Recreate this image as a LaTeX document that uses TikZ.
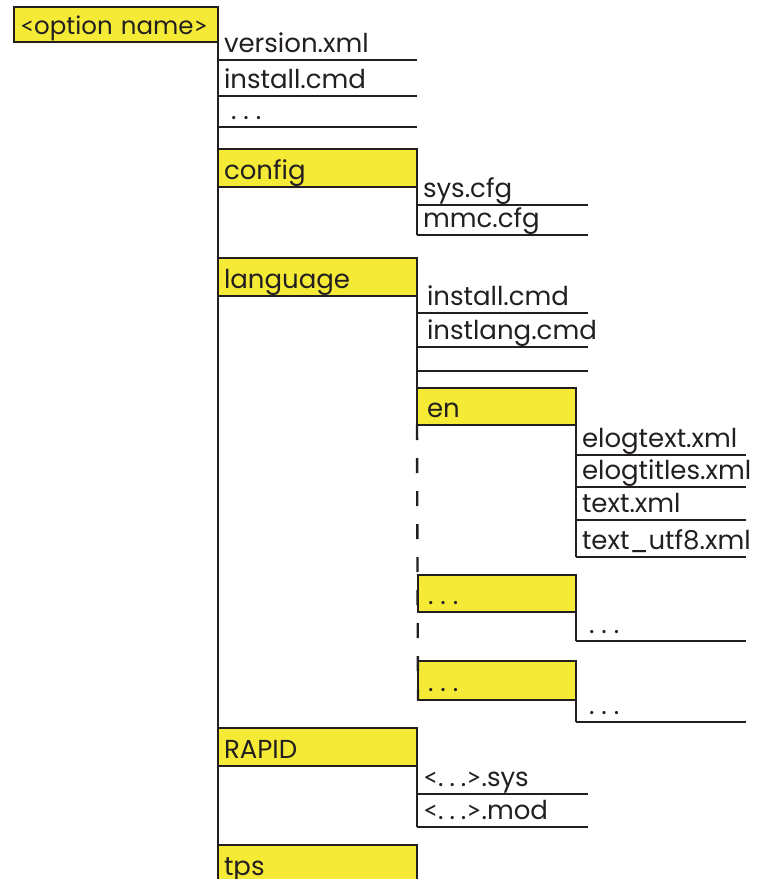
\documentclass[tikz,border=0pt]{standalone}
\usepackage{fontspec}
\setmainfont{Poppins}
\newfontfamily\bracketfont{Lato}
\definecolor{abbyellow}{RGB}{245,235,55}
\definecolor{inkgray}{RGB}{35,31,32}
\hyphenpenalty=10000
\exhyphenpenalty=10000
\newcommand{\dotsrow}{.\hspace{7pt}.\hspace{7pt}.}
\newcommand{\lt}{{\bracketfont<}}
\newcommand{\gt}{{\bracketfont>}}
\tikzset{
  tree/.style={draw=inkgray, line width=2.4pt},
  folder/.style={tree, fill=abbyellow, anchor=north west, outer sep=0pt,
    inner xsep=6pt, inner ysep=0pt, text height=22pt, text depth=0pt,
    minimum height=38pt, align=left},
  file/.style={anchor=south west, outer sep=0pt, inner xsep=6pt, inner ysep=0pt,
    text height=15pt, text depth=8pt, align=left},
}
\begin{document}
\begin{tikzpicture}[x=1pt,y=-1pt,font=\fontsize{26}{30}\selectfont,text=inkgray]
\clip (0,0) rectangle (757,879);
% top folder and its files
\node[folder, text width=196pt, inner xsep=4pt, minimum height=35pt, text height=20pt,
  font=\fontsize{24.5}{30}\selectfont] (opt) at (14,7) {\mbox{\hspace*{2pt}\lt option~name\gt}};
\node[file, text width=187pt] (v1) at (218,60) {version.xml};
\node[file, text width=187pt] (v2) at (218,96) {install.cmd};
\node[file, text width=187pt] (v3) at (218,127) {\hspace*{7pt}\dotsrow};
% config
\node[folder, text width=187pt] (cfg) at (218,149) {config};
\node[file, text width=159pt] (sys) at (417,205) {sys.cfg};
\node[file, text width=159pt] (mmc) at (417,235) {mmc.cfg};
% language
\node[folder, text width=187pt] (lang) at (218,258) {language};
\node[file, text width=159pt] (li) at (417,313) {\hspace*{4pt}install.cmd};
\node[file, text width=159pt] (ll) at (417,347) {\mbox{\hspace*{4pt}instlang.cmd}};
\node[file, text width=159pt] (le) at (417,371) {};
\node[folder, text width=147pt, minimum height=37pt] (en) at (417,388) {\hspace*{4pt}en};
\node[file, text width=158pt] (e1) at (576,455) {elogtext.xml};
\node[file, text width=158pt] (e2) at (576,487) {\mbox{elogtitles.xml}};
\node[file, text width=158pt] (e3) at (576,520) {text.xml};
\node[file, text width=158pt] (e4) at (576,557) {text\_utf8.xml};
\node[folder, text width=146pt, minimum height=37pt] (d1) at (418,575) {\hspace*{4pt}\dotsrow};
\node[file, text width=158pt] (d1f) at (576,641) {\hspace*{7pt}\dotsrow};
\node[folder, text width=146pt, minimum height=39pt] (d2) at (418,661) {\hspace*{4pt}\dotsrow};
\node[file, text width=158pt] (d2f) at (576,722) {\hspace*{7pt}\dotsrow};
% RAPID and tps
\node[folder, text width=187pt] (rapid) at (218,728) {RAPID};
\node[file, text width=159pt] (rs) at (417,794) {\lt.\hspace{6pt}.\hspace{6pt}.\gt.sys};
\node[file, text width=159pt] (rm) at (417,827) {\lt.\hspace{6pt}.\hspace{6pt}.\gt.mod};
\node[folder, text width=187pt] (tps) at (218,845) {tps};
\coordinate (trunkend) at (218,879);
% tree lines
\draw[tree] (opt.south east) -- (trunkend);
\draw[tree] (cfg.south east) -- (mmc.south west);
\draw[tree] (lang.south east) -- (en.north west);
\draw[tree] (en.south east) -- (e4.south west);
\draw[tree, dash pattern=on 15pt off 18pt] (en.south west) -- (d2.south west);
\draw[tree] (d1.south east) -- (d1f.south west);
\draw[tree] (d2.south east) -- (d2f.south west);
\draw[tree] (rapid.south east) -- (rm.south west);
\foreach \f in {v1,v2,v3,sys,mmc,li,ll,le,e1,e2,e3,e4,d1f,d2f,rs,rm}
  \draw[tree] (\f.south west) -- (\f.south east);
\end{tikzpicture}
\end{document}
